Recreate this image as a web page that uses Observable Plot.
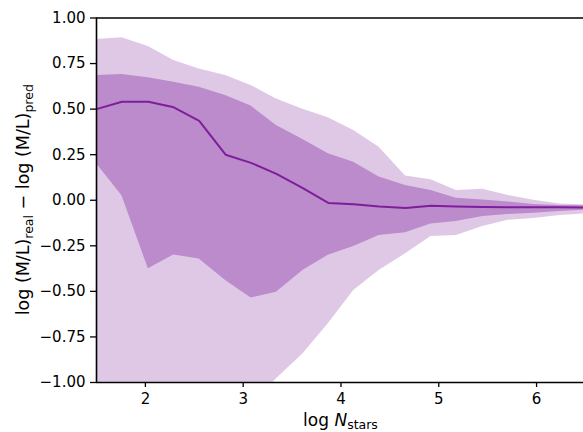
<!DOCTYPE html>
<html><head><meta charset="utf-8">
<script src="https://cdn.jsdelivr.net/npm/d3@7"></script>
<script src="https://cdn.jsdelivr.net/npm/@observablehq/plot@0.6"></script>
<style>html,body{margin:0;padding:0;overflow:hidden;background:#fff}</style>
</head><body><div id="chart"></div>
<script>
const logN = [1.50, 1.76, 2.03, 2.29, 2.55, 2.82, 3.08, 3.34, 3.61, 3.87, 4.13, 4.39, 4.66, 4.92, 5.18, 5.45, 5.71, 5.97, 6.24, 6.50];
const median  = [0.50, 0.54, 0.54, 0.51, 0.435, 0.25, 0.205, 0.145, 0.066, -0.015, -0.022, -0.034, -0.042, -0.030, -0.034, -0.037, -0.038, -0.038, -0.039, -0.040];
const innerHi = [0.684, 0.690, 0.672, 0.648, 0.620, 0.575, 0.517, 0.410, 0.333, 0.255, 0.209, 0.127, 0.081, 0.053, 0.011, 0.002, -0.010, -0.023, -0.029, -0.030];
const innerLo = [0.200, 0.025, -0.376, -0.300, -0.322, -0.440, -0.536, -0.505, -0.385, -0.302, -0.254, -0.193, -0.179, -0.130, -0.117, -0.089, -0.078, -0.071, -0.062, -0.055];
const outerHi = [0.882, 0.891, 0.844, 0.767, 0.720, 0.684, 0.630, 0.556, 0.500, 0.452, 0.383, 0.291, 0.133, 0.112, 0.053, 0.060, 0.026, 0.000, -0.020, -0.025];
const outerLo = [-1.60, -1.50, -1.45, -1.40, -1.35, -1.25, -1.12, -0.980, -0.843, -0.677, -0.495, -0.385, -0.294, -0.199, -0.193, -0.144, -0.110, -0.100, -0.084, -0.075];
const xTicks = [2, 3, 4, 5, 6];
const yTicks = [-1, -0.75, -0.5, -0.25, 0, 0.25, 0.5, 0.75, 1];

const data = logN.map((x, i) => ({x, med: median[i], ilo: innerLo[i], ihi: innerHi[i], olo: outerLo[i], ohi: outerHi[i]}));

const plot = Plot.plot({
  width: 583, height: 432,
  marginLeft: 96, marginRight: 0, marginTop: 17.5, marginBottom: 50,
  style: {fontFamily: "DejaVu Sans", fontSize: "15px", color: "#000", background: "#fff"},
  x: {domain: [1.5, 6.48]},
  y: {domain: [-1, 1]},
  marks: [
    Plot.areaY(data, {x: "x", y1: "olo", y2: "ohi", fill: "#dfc8e6", clip: true}),
    Plot.areaY(data, {x: "x", y1: "ilo", y2: "ihi", fill: "#bc8bcb", clip: true}),
    Plot.line(data, {x: "x", y: "med", stroke: "#7e1e9c", strokeWidth: 2, clip: true}),
    Plot.ruleX([1.5], {stroke: "#000", strokeWidth: 1.6}),
    Plot.ruleY([-1, 1], {stroke: "#000", strokeWidth: 1.6}),
    Plot.axisX({ticks: xTicks, tickSize: 5, tickPadding: 6, label: null, tickFormat: d => String(d), fontSize: 15, strokeWidth: 1.3}),
    Plot.axisY({ticks: yTicks, tickSize: 6, tickPadding: 5, label: null, tickFormat: d3.format(".2f"), fontSize: 15, strokeWidth: 1.3})
  ]
});

const svg = d3.select(plot);
const xl = svg.append("text")
  .attr("x", 340.5).attr("y", 426)
  .attr("text-anchor", "middle")
  .attr("font-family", "DejaVu Sans").attr("font-size", 17).attr("fill", "#000");
xl.append("tspan").text("log ");
xl.append("tspan").attr("font-style", "italic").text("N");
xl.append("tspan").attr("font-size", 12.5).attr("dy", 3).text("stars");

const yl = svg.append("text")
  .attr("transform", "translate(29,199.75) rotate(-90)")
  .attr("text-anchor", "middle")
  .attr("font-family", "DejaVu Sans").attr("font-size", 17.5).attr("fill", "#000");
yl.append("tspan").text("log (M/L)");
yl.append("tspan").attr("font-size", 12.5).attr("dy", 3.5).text("real");
yl.append("tspan").attr("dy", -3.5).text(" \u2212 log (M/L)");
yl.append("tspan").attr("font-size", 12.5).attr("dy", 3.5).text("pred");

document.getElementById("chart").appendChild(plot);
</script>
</body></html>
